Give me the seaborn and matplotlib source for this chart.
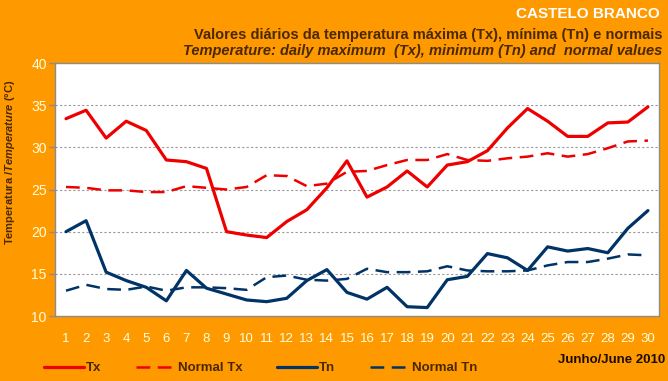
import numpy as np
import pandas as pd
import matplotlib
matplotlib.use('Agg')
import matplotlib.pyplot as plt
import seaborn as sns

# daily values, June 2010, Castelo Branco
days = list(range(1, 31))
tx = [33.4, 34.4, 31.1, 33.1, 32.0, 28.5, 28.3, 27.5, 20.0, 19.6,
      19.3, 21.2, 22.6, 25.2, 28.4, 24.1, 25.3, 27.2, 25.3, 27.9,
      28.3, 29.6, 32.3, 34.6, 33.1, 31.3, 31.3, 32.9, 33.0, 34.8]
normal_tx = [25.3, 25.2, 24.9, 24.9, 24.7, 24.7, 25.4, 25.2, 25.0, 25.3,
             26.7, 26.6, 25.4, 25.7, 27.1, 27.2, 27.9, 28.5, 28.5, 29.2,
             28.5, 28.4, 28.7, 28.9, 29.3, 28.9, 29.2, 29.9, 30.7, 30.8]
tn = [20.0, 21.3, 15.2, 14.2, 13.4, 11.8, 15.4, 13.3, 12.6, 11.9,
      11.7, 12.1, 14.2, 15.5, 12.8, 12.0, 13.4, 11.1, 11.0, 14.3,
      14.7, 17.4, 16.9, 15.4, 18.2, 17.7, 18.0, 17.5, 20.4, 22.5]
normal_tn = [13.0, 13.7, 13.2, 13.1, 13.5, 13.0, 13.4, 13.4, 13.3, 13.1,
             14.6, 14.8, 14.3, 14.2, 14.4, 15.6, 15.2, 15.2, 15.3, 15.9,
             15.4, 15.3, 15.3, 15.4, 16.0, 16.4, 16.4, 16.8, 17.3, 17.2]

series_names = ['Tx', 'Normal Tx', 'Tn', 'Normal Tn']
series_colors = ['#ee0000', '#ee0000', '#003366', '#003366']

ORANGE = '#ff9900'
BROWN = '#4a2800'

sns.set_style('white')
plt.rcParams['font.family'] = ['Liberation Sans', 'DejaVu Sans']
plt.rcParams['mathtext.fontset'] = 'custom'
plt.rcParams['mathtext.it'] = 'Liberation Sans:italic:bold'
plt.rcParams['mathtext.rm'] = 'Liberation Sans:bold'

df = pd.DataFrame({'day': days, 'Tx': tx, 'Normal Tx': normal_tx,
                   'Tn': tn, 'Normal Tn': normal_tn})
long = df.melt(id_vars='day', var_name='serie', value_name='temp')

fig = plt.figure(figsize=(6.68, 3.81), dpi=100, facecolor=ORANGE)
ax = fig.add_axes([0.0823, 0.1706, 0.9042, 0.664])
ax.set_facecolor('white')

for name, col in zip(series_names, series_colors):
    sub = long[long['serie'] == name]
    dashed = name.startswith('Normal')
    sns.lineplot(data=sub, x='day', y='temp', ax=ax, color=col,
                 linewidth=1.8 if dashed else 2.3,
                 linestyle=(0, (5.5, 3)) if dashed else '-',
                 label=name, legend=False)

ax.set_xlim(0.45, 30.55)
ax.set_ylim(10, 40)
ax.set_yticks(range(10, 41, 5))
ax.set_xticks(days)
for y in range(15, 40, 5):
    ax.axhline(y, color='#999999', linestyle=(0, (2, 2)), linewidth=0.8, zorder=0)

for s in ax.spines.values():
    s.set_color('#8c8c8c')
    s.set_linewidth(1.0)

ax.tick_params(axis='y', colors='#8c8c8c', labelcolor='#ffffdd', length=4,
               width=1, labelsize=10, pad=2, left=True)
ax.tick_params(axis='x', length=0, labelcolor='#ffffdd', labelsize=9.5, pad=12)
ax.set_xlabel('')
ax.set_ylabel('')

fig.text(10 / 668, 1 - 162 / 381, 'Temperatura /$\\it{Temperature}$ (°C)',
         color=BROWN, fontsize=8, fontweight='bold', rotation=90,
         ha='center', va='center')

fig.text(0.988, 0.962, 'CASTELO BRANCO', color='white', fontsize=11,
         fontweight='bold', ha='right', va='center')
fig.text(0.992, 0.907, 'Valores diários da temperatura máxima (Tx), mínima (Tn) e normais',
         color=BROWN, fontsize=10.5, fontweight='bold', ha='right', va='center')
fig.text(0.992, 0.866, 'Temperature: daily maximum  (Tx), minimum (Tn) and  normal values',
         color=BROWN, fontsize=10.5, fontweight='bold', style='italic',
         ha='right', va='center')
fig.text(0.996, 0.055, 'Junho/June 2010', color='#1a0d00', fontsize=9.5,
         fontweight='bold', ha='right', va='center')

handles, labels = ax.get_legend_handles_labels()
leg = fig.legend(handles, labels, loc='center left', bbox_to_anchor=(0.048, 0.034),
                 ncol=4, frameon=False, handlelength=3.0, handletextpad=0.2,
                 columnspacing=2.6, prop={'weight': 'bold', 'size': 9.5})
for t in leg.get_texts():
    t.set_color(BROWN)

fig.savefig('out.png', dpi=100, facecolor=ORANGE)
